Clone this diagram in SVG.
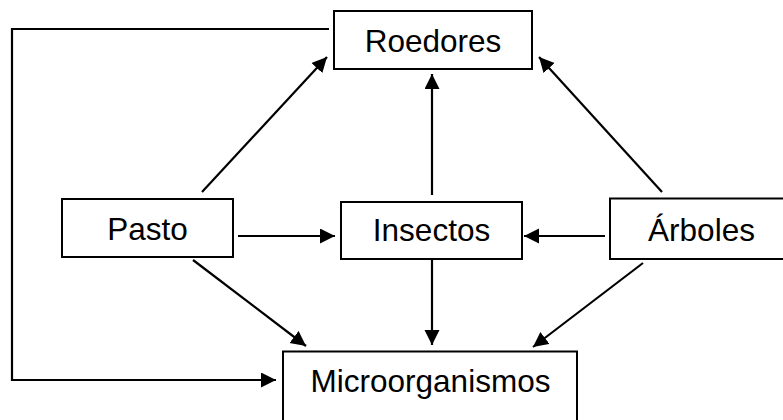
<svg xmlns="http://www.w3.org/2000/svg" width="783" height="420" viewBox="0 0 783 420">
<style>
.box{fill:#fff;stroke:#000;stroke-width:2}
.lbl{font-family:"Liberation Sans",Arial,sans-serif;font-size:31.5px;fill:#000;text-anchor:middle}
.con{fill:none;stroke:#000;stroke-width:2.2}
</style>
<defs>
<marker id="ah" markerUnits="userSpaceOnUse" markerWidth="16" markerHeight="16" refX="15" refY="7.5" orient="auto">
<path d="M0,0 L15,7.5 L0,15 z" fill="#000"/>
</marker>
</defs>
<rect width="783" height="420" fill="#fff"/>
<g id="connectors">
<line class="con" x1="202" y1="192" x2="327" y2="57" marker-end="url(#ah)"/>
<line class="con" x1="432" y1="195" x2="432" y2="74" marker-end="url(#ah)"/>
<line class="con" x1="662" y1="192" x2="539" y2="57" marker-end="url(#ah)"/>
<line class="con" x1="238" y1="236" x2="335" y2="236" marker-end="url(#ah)"/>
<line class="con" x1="605" y1="236" x2="524" y2="236" marker-end="url(#ah)"/>
<line class="con" x1="193" y1="260" x2="306" y2="346" marker-end="url(#ah)"/>
<line class="con" x1="432" y1="260" x2="432" y2="345" marker-end="url(#ah)"/>
<line class="con" x1="643" y1="263" x2="533" y2="347" marker-end="url(#ah)"/>
<polyline class="con" points="329,29 12,29 12,380 276,380" marker-end="url(#ah)"/>
</g>
<g id="roedores">
<rect class="box" x="334" y="11" width="198" height="58"/>
<text class="lbl" x="433" y="52">Roedores</text>
</g>
<g id="pasto">
<rect class="box" x="62" y="199" width="171" height="58"/>
<text class="lbl" x="147.5" y="240">Pasto</text>
</g>
<g id="insectos">
<rect class="box" x="341" y="202" width="181" height="57"/>
<text class="lbl" x="431.5" y="241">Insectos</text>
</g>
<g id="arboles">
<rect class="box" x="610" y="198.5" width="185" height="60.5"/>
<text class="lbl" x="701.5" y="241">Árboles</text>
</g>
<g id="microorganismos">
<rect class="box" x="283" y="351.5" width="294" height="80"/>
<text class="lbl" x="430.5" y="392">Microorganismos</text>
</g>
</svg>
